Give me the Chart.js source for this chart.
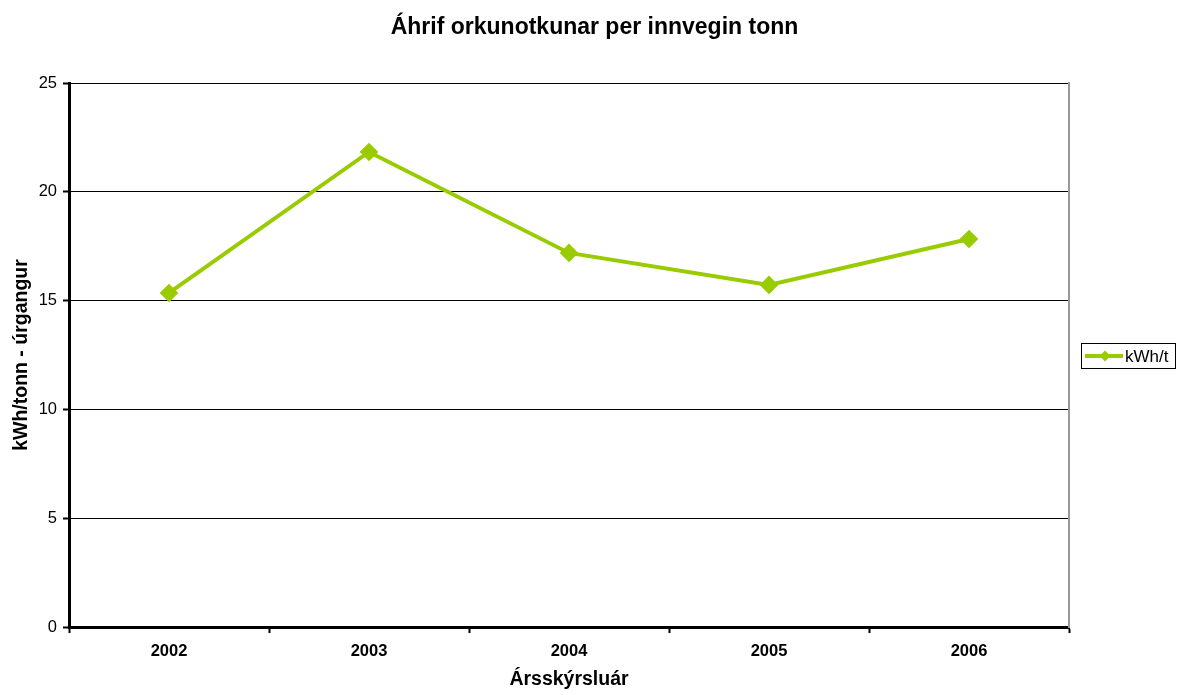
<!DOCTYPE html>
<html>
<head>
<meta charset="utf-8">
<script src="https://cdn.jsdelivr.net/npm/chart.js@4"></script>
<style>
  html, body { margin: 0; padding: 0; background: #fff; }
  #wrap { width: 1183px; height: 695px; }
</style>
</head>
<body>
<div id="wrap"><canvas id="chart" width="1183" height="695"></canvas></div>
<script>
const years = ['2002', '2003', '2004', '2005', '2006'];
const kwhPerTonn = [15.35, 21.83, 17.19, 15.72, 17.83];
const yTicks = [0, 5, 10, 15, 20, 25];
const lineColor = '#99CC00';
const fontFam = 'Arial, "Liberation Sans", sans-serif';

// boxed legend to the right of the plot, like the original
const boxLegend = {
    id: 'boxLegend',
    afterDraw(chart) {
        const c = chart.ctx;
        const ds = chart.data.datasets[0];
        const x = 1081, y = 343, w = 94, h = 25;
        c.save();
        c.strokeStyle = '#000';
        c.lineWidth = 1;
        c.strokeRect(x + 0.5, y + 0.5, w, h);
        c.strokeStyle = ds.borderColor;
        c.lineWidth = 4;
        c.beginPath();
        c.moveTo(x + 4, y + 13);
        c.lineTo(x + 42, y + 13);
        c.stroke();
        c.fillStyle = ds.borderColor;
        c.beginPath();
        c.moveTo(x + 24, y + 7.5);
        c.lineTo(x + 29.5, y + 13);
        c.lineTo(x + 24, y + 18.5);
        c.lineTo(x + 18.5, y + 13);
        c.closePath();
        c.fill();
        c.fillStyle = '#000';
        c.font = '17px ' + fontFam;
        c.textBaseline = 'middle';
        c.fillText(ds.label, x + 44, y + 14);
        c.restore();
    }
};

new Chart(document.getElementById('chart').getContext('2d'), {
    type: 'line',
    data: {
        labels: years,
        datasets: [{
            label: 'kWh/t',
            data: kwhPerTonn,
            borderColor: lineColor,
            backgroundColor: lineColor,
            borderWidth: 4,
            pointStyle: 'rectRot',
            pointRadius: 6.5,
            pointHoverRadius: 6.5,
            tension: 0,
            fill: false
        }]
    },
    options: {
        responsive: false,
        animation: false,
        layout: { padding: { left: 6, right: 0, top: 0, bottom: 0 } },
        plugins: {
            legend: { display: false },
            tooltip: { enabled: false },
            title: {
                display: true,
                text: 'Áhrif orkunotkunar per innvegin tonn',
                color: '#000',
                font: { family: fontFam, size: 23, weight: 'bold' },
                padding: { top: 14, bottom: 41.4 }
            }
        },
        scales: {
            x: {
                offset: true,
                grid: { offset: true, drawOnChartArea: false, color: '#000', tickLength: 6, tickWidth: 2 },
                border: { color: '#000', width: 3 },
                ticks: { color: '#000', padding: 9, font: { family: fontFam, size: 16.5, weight: 'bold' } },
                title: {
                    display: true, text: 'Ársskýrsluár', color: '#000',
                    font: { family: fontFam, size: 19.5, weight: 'bold' }
                },
                afterFit: s => { s.height = 68; }
            },
            y: {
                min: 0, max: 25,
                afterBuildTicks: s => { s.ticks = yTicks.map(v => ({ value: v })); },
                grid: { color: '#000', lineWidth: 1, tickLength: 6, tickWidth: 2, tickColor: '#000' },
                border: { color: '#000', width: 3 },
                ticks: { color: '#000', padding: 6, font: { family: fontFam, size: 16.5 } },
                title: {
                    display: true, text: 'kWh/tonn - úrgangur', color: '#000',
                    font: { family: fontFam, size: 19.5, weight: 'bold' }
                },
                afterFit: s => { s.width = 63; }
            },
            // empty right axis: reserves the legend column and draws the gray frame
            yRight: {
                position: 'right',
                min: 0, max: 25,
                grid: { display: false },
                border: { display: true, color: '#999', width: 2 },
                ticks: { display: false },
                afterFit: s => { s.width = 114; }
            }
        }
    },
    plugins: [boxLegend]
});
</script>
</body>
</html>
